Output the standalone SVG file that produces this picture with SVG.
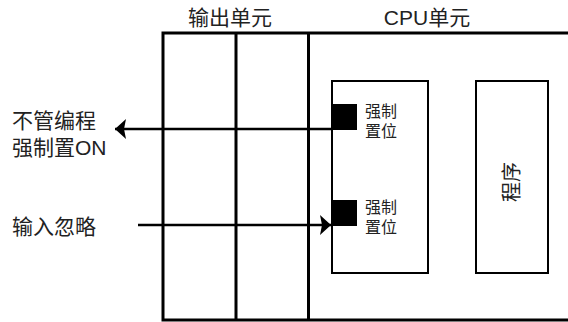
<svg xmlns="http://www.w3.org/2000/svg" width="568" height="322" viewBox="0 0 568 322">
<style>
.frame{fill:none;stroke:#000;stroke-width:3}
.box{fill:none;stroke:#000;stroke-width:2}
.conn{fill:none;stroke:#000;stroke-width:2.5}
.blk{fill:#000}
.lbl{font-family:"Liberation Sans","Noto Sans CJK SC",sans-serif;fill:#222;font-size:21px}
.sm{font-family:"Liberation Sans","Noto Sans CJK SC",sans-serif;fill:#222;font-size:16px}
</style>
<defs>
<marker id="ah" markerWidth="11" markerHeight="20" refX="11" refY="10" orient="auto" markerUnits="userSpaceOnUse">
<path d="M0,0 L11,10 L0,20 L2,10 Z" fill="#000"/>
</marker>
</defs>
<g id="frame">
<path class="frame" d="M568,33 H163 V320 H568"/>
<line class="frame" x1="236" y1="33" x2="236" y2="320"/>
<line class="frame" x1="308.5" y1="33" x2="308.5" y2="320"/>
<text class="lbl" x="230" y="25" text-anchor="middle">输出单元</text>
<text class="lbl" x="427" y="25" text-anchor="middle">CPU单元</text>
</g>
<g id="force-box">
<rect class="box" x="332" y="81" width="96" height="192"/>
<rect class="blk" x="331" y="104" width="26" height="26"/>
<rect class="blk" x="331" y="200" width="26" height="26"/>
<text class="sm" x="365" y="117">强制</text>
<text class="sm" x="365" y="137">置位</text>
<text class="sm" x="365" y="213">强制</text>
<text class="sm" x="365" y="233">置位</text>
</g>
<g id="program">
<rect class="box" x="476" y="81" width="72" height="192"/>
<text class="lbl" transform="translate(519,182) rotate(-90)" text-anchor="middle" style="font-size:20px">程序</text>
</g>
<g id="labels">
<text class="lbl" x="12" y="128">不管编程</text>
<text class="lbl" x="12" y="155">强制置ON</text>
<text class="lbl" x="12" y="234">输入忽略</text>
</g>
<g id="connectors">
<line class="conn" x1="331" y1="129" x2="115" y2="129" marker-end="url(#ah)"/>
<line class="conn" x1="138" y1="225" x2="331" y2="225" marker-end="url(#ah)"/>
</g>
</svg>
